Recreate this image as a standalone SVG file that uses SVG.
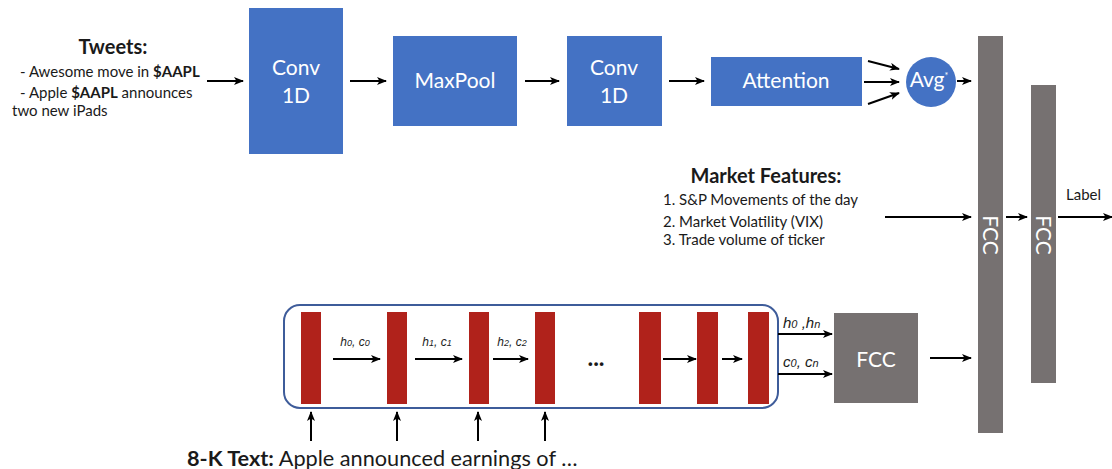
<svg xmlns="http://www.w3.org/2000/svg" width="1112" height="469" viewBox="0 0 1112 469">
  <style>
    .blue { fill: #4472C4; }
    .gray { fill: #767171; }
    .red { fill: #B0221B; }
    .wt { fill: #ffffff; font-family: Lato, "Open Sans", sans-serif; font-size: 21px; text-anchor: middle; }
    .tx { fill: #1a1a1a; font-family: Lato, "Open Sans", sans-serif; font-size: 15px; }
    .hd { fill: #1a1a1a; font-family: Lato, "Open Sans", sans-serif; font-size: 20px; font-weight: bold; }
    .it { fill: #1a1a1a; font-family: "Liberation Sans", Arial, sans-serif; font-size: 12px; font-style: italic; }
    .itb { fill: #1a1a1a; font-family: "Liberation Sans", Arial, sans-serif; font-size: 15px; font-style: italic; }
    .ar { stroke: #000; stroke-width: 2; fill: none; marker-end: url(#ah); }
  </style>
  <defs>
    <marker id="ah" viewBox="0 0 10 8" refX="9" refY="4" markerWidth="5" markerHeight="4" orient="auto" markerUnits="strokeWidth">
      <path d="M0,0 L10,4 L0,8 L2.5,4 z" fill="#000"/>
    </marker>
  </defs>
  <rect width="1112" height="469" fill="#ffffff"/>

  <!-- tweet input -->
  <g id="tweets">
    <text class="hd" x="113" y="54" text-anchor="middle">Tweets:</text>
    <text class="tx" x="20" y="77">- Awesome move in <tspan font-weight="bold">$AAPL</tspan></text>
    <text class="tx" x="20" y="98">- Apple <tspan font-weight="bold">$AAPL</tspan> announces</text>
    <text class="tx" x="12" y="116">two new iPads</text>
  </g>

  <g id="conv1">
    <rect class="blue" x="249" y="8" width="94" height="146"/>
    <text class="wt" x="296" y="75">Conv</text>
    <text class="wt" x="296" y="103">1D</text>
  </g>
  <g id="maxpool">
    <rect class="blue" x="393" y="36" width="124" height="90"/>
    <text class="wt" x="455" y="88">MaxPool</text>
  </g>
  <g id="conv2">
    <rect class="blue" x="567" y="36" width="95" height="90"/>
    <text class="wt" x="614" y="75">Conv</text>
    <text class="wt" x="614" y="103">1D</text>
  </g>
  <g id="attention">
    <rect class="blue" x="711" y="57" width="151" height="49"/>
    <text class="wt" x="786" y="88">Attention</text>
  </g>
  <g id="avg">
    <circle class="blue" cx="931" cy="82" r="25"/>
    <text class="wt" x="929" y="87" font-size="16">Avg<tspan font-size="9" dy="-8">*</tspan></text>
  </g>

  <!-- market features -->
  <g id="market">
    <text class="hd" x="766" y="183" text-anchor="middle" font-size="20.5">Market Features:</text>
    <text class="tx" x="663" y="205" font-size="15.3">1. S&amp;P Movements of the day</text>
    <text class="tx" x="663" y="227" font-size="15.3">2. Market Volatility (VIX)</text>
    <text class="tx" x="663" y="245" font-size="15.3">3. Trade volume of ticker</text>
  </g>

  <g id="fcc-main">
    <rect class="gray" x="978" y="36" width="25" height="397"/>
    <text class="wt" transform="translate(990,235) rotate(90)" dy="7" font-size="20">FCC</text>
  </g>
  <g id="fcc-second">
    <rect class="gray" x="1031" y="85" width="25" height="298"/>
    <text class="wt" transform="translate(1043,235) rotate(90)" dy="7" font-size="20">FCC</text>
  </g>
  <g id="label">
    <text class="tx" x="1066" y="200" font-size="17.5">Label</text>
  </g>

  <!-- LSTM over the 8-K text -->
  <g id="lstm">
    <rect x="284" y="305" width="494" height="103" rx="16" fill="none" stroke="#3E5C9A" stroke-width="2"/>
    <rect class="red" x="301" y="312" width="20" height="92"/>
    <rect class="red" x="387" y="312" width="20" height="92"/>
    <rect class="red" x="469" y="312" width="20" height="92"/>
    <rect class="red" x="535" y="312" width="20" height="92"/>
    <rect class="red" x="639" y="312" width="22" height="92"/>
    <rect class="red" x="697" y="312" width="21" height="92"/>
    <rect class="red" x="748" y="312" width="21" height="92"/>
    <text class="it" x="355" y="346" text-anchor="middle">h<tspan font-size="9">0</tspan>, c<tspan font-size="9">0</tspan></text>
    <text class="it" x="437" y="346" text-anchor="middle">h<tspan font-size="9">1</tspan>, c<tspan font-size="9">1</tspan></text>
    <text class="it" x="512" y="346" text-anchor="middle">h<tspan font-size="9">2</tspan>, c<tspan font-size="9">2</tspan></text>
    <text x="596" y="366" font-family="Lato, sans-serif" font-size="24" font-weight="bold" fill="#1a1a1a" text-anchor="middle">...</text>
  </g>
  <g id="state-labels">
    <text class="itb" x="783" y="328">h<tspan font-size="11">0</tspan> ,h<tspan font-size="11">n</tspan></text>
    <text class="itb" x="783" y="367">c<tspan font-size="11">0</tspan>, c<tspan font-size="11">n</tspan></text>
  </g>
  <g id="fcc-lstm">
    <rect class="gray" x="834" y="313" width="84" height="90"/>
    <text class="wt" x="876" y="367">FCC</text>
  </g>
  <g id="eightk">
    <text x="187" y="466" font-family="Lato, 'Open Sans', sans-serif" font-size="21.7" fill="#1a1a1a"><tspan font-weight="bold">8-K Text:</tspan> Apple announced earnings of …</text>
  </g>

  <g id="connectors">
    <line class="ar" x1="207" y1="81" x2="243" y2="81"/>
    <line class="ar" x1="350" y1="81" x2="386" y2="81"/>
    <line class="ar" x1="525" y1="81" x2="559" y2="81"/>
    <line class="ar" x1="669" y1="81" x2="704" y2="81"/>
    <line class="ar" x1="868" y1="61" x2="899" y2="69"/>
    <line class="ar" x1="864" y1="82" x2="899" y2="82"/>
    <line class="ar" x1="868" y1="104" x2="899" y2="93"/>
    <line class="ar" x1="957" y1="81" x2="971" y2="81"/>
    <line class="ar" x1="885" y1="217" x2="971" y2="217"/>
    <line class="ar" x1="1006" y1="217" x2="1027" y2="217"/>
    <line class="ar" x1="1058" y1="217" x2="1112" y2="217"/>
    <line class="ar" x1="930" y1="358" x2="971" y2="358"/>
    <line class="ar" x1="333" y1="359" x2="380" y2="359"/>
    <line class="ar" x1="415" y1="359" x2="462" y2="359"/>
    <line class="ar" x1="493" y1="359" x2="528" y2="359"/>
    <line class="ar" x1="663" y1="359" x2="696" y2="359"/>
    <line class="ar" x1="722" y1="359" x2="742" y2="359"/>
    <line class="ar" x1="778" y1="334" x2="832" y2="334"/>
    <line class="ar" x1="778" y1="374" x2="832" y2="374"/>
    <line class="ar" x1="311" y1="441" x2="311" y2="412"/>
    <line class="ar" x1="397" y1="441" x2="397" y2="412"/>
    <line class="ar" x1="478" y1="441" x2="478" y2="412"/>
    <line class="ar" x1="545" y1="441" x2="545" y2="412"/>
  </g>
</svg>
